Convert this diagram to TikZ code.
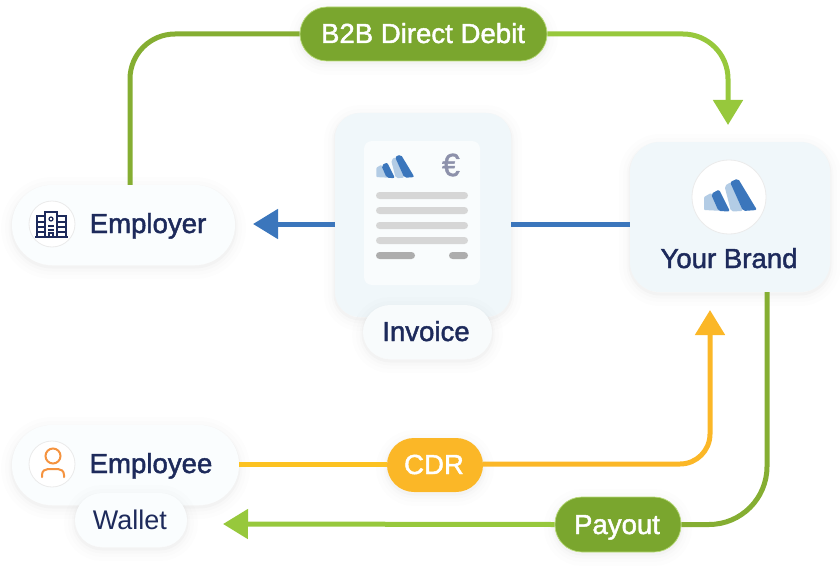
\documentclass[tikz,border=0pt]{standalone}
\usepackage{fontspec}
\usetikzlibrary{arrows.meta,shadows}
\setmainfont{Liberation Sans}
\newfontfamily\boldish[FakeBold=1.6]{Liberation Sans}
\definecolor{navy}{HTML}{1D2A5B}
\definecolor{mossgreen}{HTML}{7AA62E}
\definecolor{linegreen}{HTML}{85AE32}
\definecolor{limegreen}{HTML}{97C83C}
\definecolor{amber}{HTML}{FBB727}
\definecolor{brandblue}{HTML}{3B76BC}
\definecolor{brandpale}{HTML}{B3CCE5}
\definecolor{orangeline}{HTML}{F5933F}
\definecolor{cardblue}{HTML}{F0F7FA}
\definecolor{eurogray}{HTML}{8D91AB}
\tikzset{
    softshadow/.style={
        general shadow={draw=black, line width=22pt, opacity=.006, shadow yshift=-3pt},
        general shadow={draw=black, line width=14pt, opacity=.008, shadow yshift=-3pt},
        general shadow={draw=black, line width=7pt, opacity=.012, shadow yshift=-3pt},
        general shadow={draw=black, line width=3pt, opacity=.02, shadow yshift=-2pt}},
    pillbox/.style={softshadow, fill=#1, inner sep=0pt},
    whitepill/.style={pillbox=white!70!cardblue},
    greenpill/.style={pillbox=mossgreen, draw=limegreen!70, line width=.7pt},
    caption/.style={anchor=base, inner sep=0pt, text=navy, font=\boldish\fontsize{27.6}{30}\selectfont},
    whitecaption/.style={caption, text=white},
    flow/.style={line width=5pt, color=#1, line join=round,
        -{Triangle[length=25pt, width=29pt]}},
    plainflow/.style={line width=5pt, color=#1},
    iconring/.style={circle, draw=black!8, fill=white, line width=.8pt, inner sep=0pt},
    textbar/.style={fill=#1, rounded corners=3.5pt},
    brandlogo/.pic={
        \fill[brandpale, rounded corners=1pt] (-26,1) -- (-19,-3) -- (-6,15) -- (-26,14) -- cycle;
        \fill[brandblue, rounded corners=2pt] (-19,-2) -- (-11,-6.5) -- (0,15.5) -- (-11.5,15) -- cycle;
        \fill[brandpale, rounded corners=2pt] (-5.5,-10) -- (1,-14) -- (13,15) -- (1,15.5) -- cycle;
        \fill[brandblue, rounded corners=2pt] (0,-14) -- (8,-17.5) -- (27,14) -- (13,15) -- cycle;
    }
}
\begin{document}
\begin{tikzpicture}[x=1pt, y=-1pt]
    \useasboundingbox (0,0) rectangle (840,567);

    % boxes
    \node[whitepill, minimum width=223pt, minimum height=80pt, rounded corners=40pt] (employer) at (123.5,225) {};
    \node[whitepill, minimum width=227pt, minimum height=80pt, rounded corners=40pt] (employee) at (125.5,465) {};
    \node[whitepill, minimum width=112pt, minimum height=54pt, rounded corners=27pt] (wallet) at (131,520) {};
    \node[pillbox=cardblue, minimum width=176pt, minimum height=204pt, rounded corners=25pt] (invoicecard) at (423,215) {};
    \node[fill=white!60!cardblue, minimum width=116pt, minimum height=144pt, rounded corners=8pt, inner sep=0pt] (paper) at (422,213) {};
    \node[pillbox=white!50!cardblue, minimum width=129pt, minimum height=54pt, rounded corners=27pt] (invoice) at (427.5,332) {};
    \node[pillbox=cardblue, minimum width=200pt, minimum height=150pt, rounded corners=30pt] (brand) at (730,217) {};
    \node[greenpill, minimum width=247pt, minimum height=54pt, rounded corners=27pt] (debit) at (423.5,34) {};
    \node[pillbox=amber, minimum width=96pt, minimum height=54pt, rounded corners=27pt] (cdr) at (435,465) {};
    \node[greenpill, minimum width=126pt, minimum height=55pt, rounded corners=27pt] (payout) at (618,524.5) {};

    % labels and icons
    \node[caption] (employertext) at (148,233) {Employer};
    \node[caption] (employeetext) at (151,473) {Employee};
    \node[caption] (brandtext) at (729,268) {Your Brand};
    \node[caption] (invoicetext) at (426,341) {Invoice};
    \node[caption, font=\fontsize{27}{30}\selectfont] (wallettext) at (130,529) {Wallet};
    \node[whitecaption] (debittext) at (423,43) {B2B Direct Debit};
    \node[whitecaption] (cdrtext) at (434,474) {CDR};
    \node[whitecaption] (payouttext) at (617,534) {Payout};
    \node[iconring, minimum size=46pt] (employerring) at (52,224) {};
    \node[iconring, minimum size=46pt] (employeering) at (52,464) {};
    \node[iconring, minimum size=74pt] (brandring) at (729,197) {};
    \pic at (730,196) {brandlogo};
    \pic[scale=.72] at (395,167) {brandlogo};
    \node[inner sep=0pt, text=eurogray, font=\boldish\fontsize{32}{32}\selectfont] (euro) at (451,165) {€};

    % building
    \draw[navy, line width=1.8pt]
        (45,237) -- (45,212) -- (57,212) -- (57,237)
        (37,237) -- (37,216) -- (45,216) (57,216) -- (66,216) -- (66,237)
        (35,237) -- (68,237)
        (48,226) -- (54,226) (48,230) -- (54,230)
        (49,237) -- (49,233) -- (53,233) -- (53,237)
        (37,222) -- (45,222) (37,227) -- (45,227) (37,232) -- (45,232)
        (57,222) -- (66,222) (57,227) -- (66,227) (57,232) -- (66,232);
    \draw[navy, line width=1.2pt] (51,219) circle (2pt);

    % person
    \draw[orangeline, line width=2pt] (53,456) circle (7.5pt);
    \draw[orangeline, line width=2pt, line cap=round]
        (42,477) -- (42,475) .. controls (42,471) and (45,469) .. (48,469) -- (58,469)
        .. controls (61,469) and (64,471) .. (64,475) -- (64,477);

    % invoice lines
    \foreach \y in {195.5,210.5,225.5,240.5}
        \fill[textbar=black!16] (376,\y-3.5) rectangle (468,\y+3.5);
    \fill[textbar=black!32] (376,252) rectangle (415,259);
    \fill[textbar=black!32] (449,252) rectangle (468,259);

    % connectors
    \coordinate (debittip) at (728,125);
    \coordinate (walletip) at (223,524);
    \coordinate (employertip) at (253,224);
    \coordinate (cdrtip) at (710,310);
    \coordinate (cdrline) at (240,464);

    \draw[plainflow=linegreen, rounded corners=45pt] ([xshift=6.5pt]employer.north) |- (debit.west);
    \draw[flow=limegreen, rounded corners=45pt] (debit.east) -| (debittip);
    \draw[plainflow=brandblue] (brand.west |- employertip) -- (invoicecard.east |- employertip);
    \draw[flow=brandblue] (invoicecard.west |- employertip) -- (employertip);
    \draw[plainflow=amber!85!yellow] (employee.east |- cdrline) -- (cdr.west |- cdrline);
    \draw[flow=amber, rounded corners=30pt] (cdr.east |- cdrline) -| (cdrtip);
    \draw[plainflow=linegreen, rounded corners=58pt] ([xshift=37pt]brand.south) |- (payout.east);
    \draw[flow=limegreen] (payout.west) -- (walletip);
\end{tikzpicture}
\end{document}
